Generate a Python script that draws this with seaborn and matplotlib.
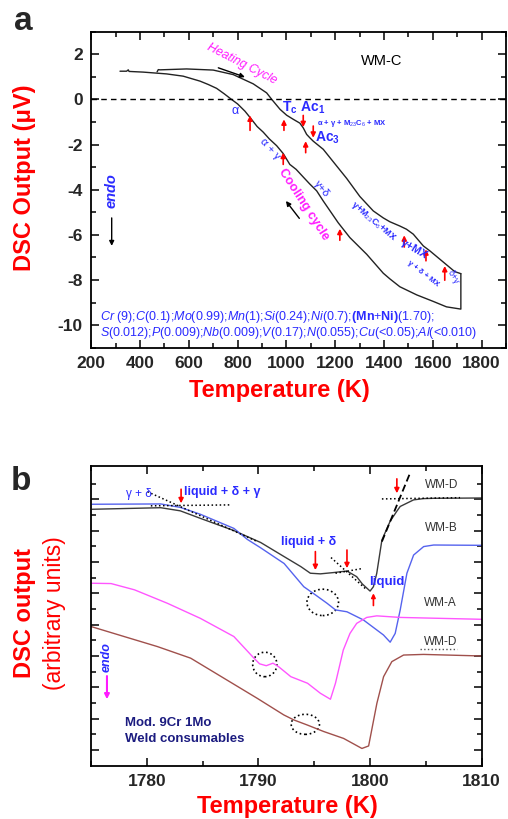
import matplotlib
matplotlib.use("Agg")
import matplotlib.pyplot as plt
import seaborn as sns
import pandas as pd
from matplotlib.patches import Ellipse

# ---------------- data: panel a (WM-C) ----------------
heat_T = [470, 475, 482, 591, 700, 782, 864, 919, 940, 974, 1001, 1028, 1055, 1069,
          1083, 1096, 1110, 1151, 1206, 1247, 1301, 1356, 1397, 1424, 1465, 1492,
          1520, 1561, 1588, 1629, 1670, 1690, 1715]
heat_y = [1.22, 1.32, 1.31, 1.35, 1.30, 1.10, 0.69, 0.29, 0.0, -0.44, -0.70, -0.88,
          -1.05, -1.26, -1.55, -1.70, -1.85, -2.21, -2.95, -3.50, -4.30, -4.94, -5.25,
          -5.42, -5.61, -5.75, -5.97, -6.49, -6.71, -7.08, -7.45, -7.63, -7.72]
cool_T = [1715, 1715, 1656, 1602, 1534, 1465, 1424, 1397, 1329, 1260, 1212, 1151, 1124,
          1096, 1070, 1040, 1014, 987, 960, 930, 905, 880, 851, 830, 800, 775, 745, 714,
          680, 646, 577, 509, 413, 355, 352, 345, 318]
cool_y = [-7.72, -9.29, -9.19, -8.95, -8.66, -8.30, -7.95, -7.70, -6.86, -6.12, -5.46,
          -4.50, -4.05, -3.75, -3.45, -3.10, -2.88, -2.40, -2.05, -1.75, -1.45, -1.20,
          -0.80, -0.52, -0.20, 0.0, 0.25, 0.49, 0.66, 0.81, 1.03, 1.13, 1.21, 1.24,
          1.31, 1.25, 1.25]
# red transformation arrows (T, from, to)
arr_T = [851, 990, 1069, 1110, 1079, 987, 1219, 1483, 1572, 1649]
arr_y0 = [-1.37, -1.37, -0.71, -1.18, -2.36, -2.88, -6.24, -6.54, -7.15, -8.01]
arr_y1 = [-0.71, -0.885, -1.23, -1.70, -1.85, -2.36, -5.73, -6.02, -6.64, -7.38]

# ---------------- data: panel b ----------------
wmd_top_T = [1775.1, 1781.25, 1783.0, 1784.8, 1787.8, 1790.2, 1792.3, 1793.8, 1794.65,
             1795.55, 1796.7, 1797.93, 1798.8, 1799.3, 1800.0, 1800.3, 1800.6, 1801.06,
             1801.8, 1802.4, 1802.7, 1803.9, 1804.78, 1805.7, 1810.0]
wmd_top_y = [7.68, 7.73, 7.63, 7.39, 7.00, 6.62, 6.17, 5.85, 5.64, 5.62, 5.66, 5.71,
             5.53, 5.30, 5.07, 5.21, 5.64, 6.70, 7.30, 7.62, 7.77, 7.98, 8.02, 8.03, 8.04]
wmb_T = [1775.1, 1781.25, 1783.0, 1784.8, 1787.8, 1789.0, 1790.2, 1792.3, 1794.06,
         1795.1, 1796.15, 1796.9, 1797.93, 1799.4, 1801.2, 1801.8, 1802.25, 1802.7,
         1803.3, 1803.9, 1804.8, 1805.7, 1810.0]
wmb_y = [7.84, 7.85, 7.74, 7.52, 7.07, 6.72, 6.45, 5.95, 5.21, 4.95, 4.68, 4.47, 4.41,
         4.15, 3.67, 3.44, 3.72, 4.47, 5.64, 6.22, 6.49, 6.54, 6.53]
wma_T = [1775.1, 1776.8, 1778.9, 1781.85, 1784.8, 1787.8, 1789.6, 1790.1, 1790.7,
         1791.3, 1791.8, 1792.9, 1794.4, 1795.55, 1796.45, 1796.9, 1797.6, 1798.2,
         1798.8, 1799.7, 1800.6, 1802.7, 1810.0]
wma_y = [5.32, 5.31, 5.11, 4.68, 4.20, 3.62, 2.93, 2.75, 2.69, 2.77, 2.66, 2.34, 2.13,
         1.81, 1.62, 2.13, 3.19, 3.72, 4.04, 4.23, 4.28, 4.23, 4.17]
wmd_T = [1775.0, 1777.97, 1780.95, 1783.93, 1786.91, 1789.89, 1792.27, 1793.17,
         1794.36, 1795.85, 1797.63, 1799.27, 1799.87, 1800.61, 1801.21, 1801.95,
         1803.0, 1804.78, 1810.0]
wmd_y = [3.94, 3.62, 3.30, 2.93, 2.29, 1.65, 1.12, 0.96, 0.80, 0.59, 0.37, 0.05, 0.13,
         1.49, 2.34, 2.82, 3.03, 3.05, 3.00]
xticks_a = [200, 400, 600, 800, 1000, 1200, 1400, 1600, 1800]
yticks_a = [2, 0, -2, -4, -6, -8, -10]
xticks_b = [1780, 1790, 1800, 1810]

# ---------------- style ----------------
sns.set_style("ticks")
plt.rcParams['font.family'] = ['Liberation Sans', 'DejaVu Sans']
plt.rcParams['mathtext.fontset'] = 'custom'
plt.rcParams['mathtext.rm'] = 'Liberation Sans'
plt.rcParams['mathtext.it'] = 'Liberation Sans:italic'
plt.rcParams['mathtext.bf'] = 'Liberation Sans:bold'

BLUE = '#2b2bff'
RED = '#ff0000'
MAG = '#ff1aff'

fig = plt.figure(figsize=(5.08, 8.19), dpi=100)
W, H = 508.0, 819.0
axa = fig.add_axes([91.2 / W, 1 - 347.7 / H, (506 - 91.2) / W, (347.7 - 31.7) / H])
axb = fig.add_axes([91.0 / W, 1 - 765.7 / H, (481.7 - 91.0) / W, 300.0 / H])

def style_axis(ax):
    for s in ax.spines.values():
        s.set_linewidth(1.3)
        s.set_color('black')
    ax.tick_params(which='both', direction='in', top=True, right=True, color='black', width=1.1)
    ax.tick_params(which='major', length=6)
    ax.tick_params(which='minor', length=3.5)

# ---------------- panel a ----------------
df_heat = pd.DataFrame({'T': heat_T, 'y': heat_y})
df_cool = pd.DataFrame({'T': cool_T, 'y': cool_y})
sns.lineplot(data=df_heat, x='T', y='y', sort=False, estimator=None, ax=axa, color='#222222', lw=1.0)
sns.lineplot(data=df_cool, x='T', y='y', sort=False, estimator=None, ax=axa, color='#222222', lw=1.0)
axa.axhline(0, color='black', ls=(0, (4, 3)), lw=1.0)
axa.set_xlim(200, 1900)
axa.set_ylim(-11, 3)
axa.set_xticks(xticks_a)
axa.set_xticks([t + 100 for t in xticks_a], minor=True)
axa.set_yticks(yticks_a)
axa.set_yticks([-11, -9, -7, -5, -3, -1, 1, 3], minor=True)
axa.set_xticklabels([str(t) for t in xticks_a])
axa.set_yticklabels([str(t) for t in yticks_a])
style_axis(axa)
axa.tick_params(which='major', labelsize=12.5, pad=6)
for lab in axa.get_xticklabels() + axa.get_yticklabels():
    lab.set_fontweight('bold')
axa.set_xlabel('')
axa.set_ylabel('')

for T, y0, y1 in zip(arr_T, arr_y0, arr_y1):
    axa.annotate('', xy=(T, y1), xytext=(T, y0),
                 arrowprops=dict(arrowstyle='-|>', color=RED, lw=1.2, mutation_scale=7,
                                 shrinkA=0, shrinkB=0))

axa.text(818, 1.55, 'Heating Cycle', color=MAG, style='italic', fontsize=8.8,
         rotation=-27, ha='center', va='center', rotation_mode='anchor')
axa.annotate('', xy=(830, 0.99), xytext=(721, 1.40),
             arrowprops=dict(arrowstyle='-|>', color='black', lw=1.0, mutation_scale=7, shrinkA=0, shrinkB=0))
axa.text(1390, 1.72, 'WM-C', color='black', fontsize=10.5, ha='center', va='center')
axa.text(980, -0.37, r'T$_\mathbf{c}$ A$\mathbf{c}_\mathbf{1}$', color=BLUE, fontsize=10,
         fontweight='bold', ha='left', va='center')
axa.text(1124, -1.06, r'α + γ + M$_{23}$C$_6$ + MX', color=BLUE, fontsize=5.5,
         fontweight='bold', ha='left', va='center')
axa.text(1117, -1.70, r'A$\mathbf{c}_\mathbf{3}$', color=BLUE, fontsize=10,
         fontweight='bold', ha='left', va='center')
axa.text(789, -0.52, 'α', color=BLUE, fontsize=9, ha='center', va='center')
axa.text(933, -2.21, 'α + γ', color=BLUE, fontsize=8, rotation=-48, ha='center', va='center',
         rotation_mode='anchor')
axa.text(1072, -4.65, 'Cooling cycle', color=MAG, fontsize=9.2, fontweight='bold',
         rotation=-57, ha='center', va='center', rotation_mode='anchor')
axa.annotate('', xy=(998, -4.50), xytext=(1053, -5.27),
             arrowprops=dict(arrowstyle='-|>', color='black', lw=1.0, mutation_scale=7, shrinkA=0, shrinkB=0))
axa.text(1144, -3.98, 'γ+δ', color=BLUE, fontsize=8, rotation=-50, ha='center', va='center',
         rotation_mode='anchor')
axa.text(1356, -5.39, r'γ+M$_{23}$C$_6$+MX', color=BLUE, fontsize=6.5, fontweight='bold',
         rotation=-40, ha='center', va='center', rotation_mode='anchor')
axa.text(1522, -6.64, 'γ+MX', color=BLUE, fontsize=8, fontweight='bold', rotation=-30,
         ha='center', va='center', rotation_mode='anchor')
axa.text(1561, -7.74, 'γ + δ + MX', color=BLUE, fontsize=5.5, fontweight='bold', rotation=-38,
         ha='center', va='center', rotation_mode='anchor')
axa.text(1685, -7.89, 'δ+γ', color=BLUE, fontsize=6.5, rotation=-60, ha='center', va='center',
         rotation_mode='anchor')
axa.text(284, -4.06, 'endo', color=BLUE, fontsize=10.5, fontweight='bold', style='italic',
         rotation=90, ha='center', va='center')
axa.annotate('', xy=(284, -6.49), xytext=(284, -5.25),
             arrowprops=dict(arrowstyle='-|>', color='black', lw=1.0, mutation_scale=7, shrinkA=0, shrinkB=0))
comp1 = (r'$\mathit{Cr}$ (9);$\mathit{C}$(0.1);$\mathit{Mo}$(0.99);$\mathit{Mn}$(1);'
         r'$\mathit{Si}$(0.24);$\mathit{Ni}$(0.7);$\mathbf{(Mn}$+$\mathbf{Ni)}$(1.70);')
comp2 = (r'$\mathit{S}$(0.012);$\mathit{P}$(0.009);$\mathit{Nb}$(0.009);$\mathit{V}$(0.17);'
         r'$\mathit{N}$(0.055);$\mathit{Cu}$(<0.05);$\mathit{Al}$(<0.010)')
axa.text(236, -9.66, comp1, color=BLUE, fontsize=9.0, ha='left', va='center')
axa.text(236, -10.33, comp2, color=BLUE, fontsize=9.0, ha='left', va='center')

fig.text(23.5 / W, 1 - 21.5 / H, 'a', fontsize=24, fontweight='bold', ha='center', va='center')
fig.text(25 / W, 1 - 177.5 / H, 'DSC Output (μV)', color=RED, fontsize=17, fontweight='bold',
         rotation=90, ha='center', va='center')
fig.text(279 / W, 1 - 390 / H, 'Temperature (K)', color=RED, fontsize=17, fontweight='bold',
         ha='center', va='center')

# ---------------- panel b ----------------
for Tv, yv, c in [(wmd_top_T, wmd_top_y, '#3a3a3a'), (wmb_T, wmb_y, '#5563ee'),
                  (wma_T, wma_y, '#ff55ff'), (wmd_T, wmd_y, '#a0504c')]:
    sns.lineplot(x=Tv, y=yv, sort=False, estimator=None, ax=axb, color=c, lw=1.0)
axb.set_xlim(1775, 1810)
axb.set_ylim(-0.5, 9.07)
axb.set_xticks(xticks_b)
axb.set_xticks([1775, 1785, 1795, 1805], minor=True)
axb.set_yticks(list(range(0, 9)))
axb.set_yticks([i + 0.5 for i in range(0, 9)], minor=True)
axb.set_xticklabels([str(t) for t in xticks_b])
axb.set_yticklabels([])
style_axis(axb)
axb.tick_params(which='major', labelsize=12.5, pad=6)
for lab in axb.get_xticklabels():
    lab.set_fontweight('bold')
axb.set_xlabel('')
axb.set_ylabel('')

def red_arrow(ax, T, y0, y1, ms=7):
    ax.annotate('', xy=(T, y1), xytext=(T, y0),
                arrowprops=dict(arrowstyle='-|>', color=RED, lw=1.2, mutation_scale=ms,
                                shrinkA=0, shrinkB=0))

axb.text(1779.3, 8.16, 'γ + δ', color=BLUE, fontsize=8.5, ha='center', va='center')
axb.text(1786.8, 8.22, 'liquid + δ + γ', color=BLUE, fontsize=9, fontweight='bold',
         ha='center', va='center')
red_arrow(axb, 1783.07, 8.32, 7.87)
axb.plot([1780.06, 1789.9], [8.24, 6.65], color='black', ls=':', lw=1.1)
axb.plot([1780.36, 1787.5], [7.79, 7.82], color='black', ls=':', lw=1.1)
axb.text(1794.5, 6.65, 'liquid + δ', color=BLUE, fontsize=9, fontweight='bold',
         ha='center', va='center')
red_arrow(axb, 1795.1, 6.33, 5.74)
red_arrow(axb, 1797.93, 6.38, 5.80)
axb.plot([1796.5, 1799.7], [6.14, 5.11], color='black', ls=':', lw=1.1)
axb.plot([1796.9, 1799.3], [5.64, 5.79], color='black', ls=':', lw=1.1)
axb.text(1801.5, 5.35, 'liquid', color=BLUE, fontsize=9.5, fontweight='bold',
         ha='center', va='center')
red_arrow(axb, 1800.3, 4.61, 5.0, ms=6)
axb.plot([1801.06, 1803.6], [6.65, 8.85], color='black', ls=(0, (4, 2)), lw=1.3)
axb.plot([1801.06, 1808.06], [8.01, 8.05], color='black', ls=':', lw=1.1)
red_arrow(axb, 1802.4, 8.65, 8.19)
axb.text(1806.4, 8.46, 'WM-D', color='#333333', fontsize=8.5, ha='center', va='center')
axb.text(1806.4, 7.07, 'WM-B', color='#333333', fontsize=8.5, ha='center', va='center')
axb.text(1806.3, 4.68, 'WM-A', color='#333333', fontsize=8.5, ha='center', va='center')
axb.text(1806.3, 3.46, 'WM-D', color='#333333', fontsize=8.5, ha='center', va='center')
axb.plot([1804.5, 1807.8], [3.22, 3.22], color='#555555', ls=':', lw=1.0)
for (cx, cy, w, h) in [(1795.76, 4.71, 2.83, 0.84), (1790.57, 2.73, 2.17, 0.78),
                       (1794.2, 0.82, 2.53, 0.64)]:
    axb.add_patch(Ellipse((cx, cy), w, h, fill=False, ls=':', lw=1.2, ec='black'))
axb.text(1776.43, 2.98, 'endo', color=BLUE, fontsize=9, fontweight='bold', style='italic',
         rotation=90, ha='center', va='center')
axb.annotate('', xy=(1776.43, 1.62), xytext=(1776.43, 2.36),
             arrowprops=dict(arrowstyle='-|>', color=MAG, lw=1.5, mutation_scale=7, shrinkA=0, shrinkB=0))
axb.text(1778.03, 0.85, 'Mod. 9Cr 1Mo', color='#1c1c80', fontsize=9.5, fontweight='bold',
         ha='left', va='center')
axb.text(1778.03, 0.34, 'Weld consumables', color='#1c1c80', fontsize=9.5, fontweight='bold',
         ha='left', va='center')

fig.text(21 / W, 1 - 481 / H, 'b', fontsize=24, fontweight='bold', ha='center', va='center')
fig.text(25 / W, 1 - 613 / H, 'DSC output', color=RED, fontsize=17, fontweight='bold',
         rotation=90, ha='center', va='center')
fig.text(55 / W, 1 - 613 / H, '(arbitrary units)', color=RED, fontsize=16.5,
         rotation=90, ha='center', va='center')
fig.text(287.8 / W, 1 - 806.7 / H, 'Temperature (K)', color=RED, fontsize=17, fontweight='bold',
         ha='center', va='center')

fig.savefig('out.png', dpi=100)
